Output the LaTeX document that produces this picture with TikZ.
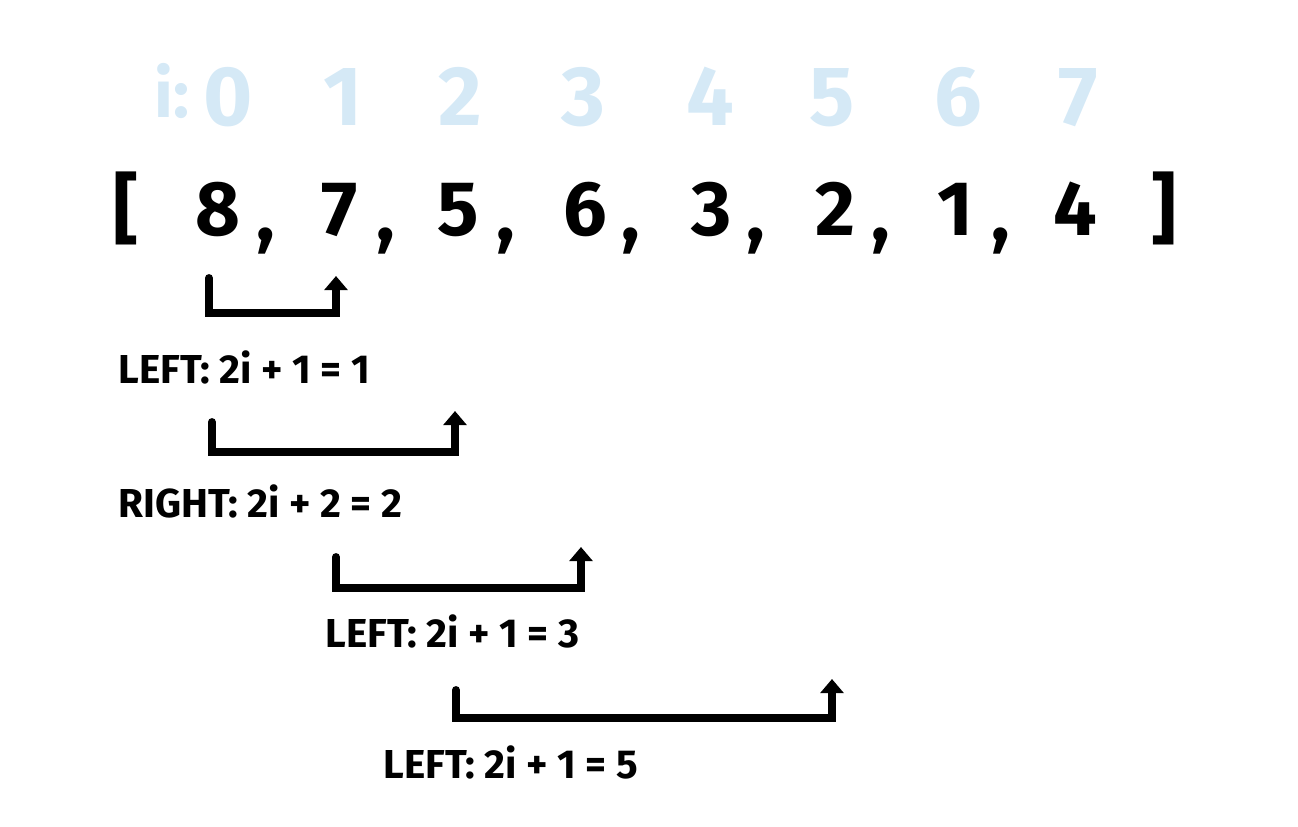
\documentclass[tikz,border=0pt]{standalone}
\usepackage{fontspec}
\setmainfont{Fira Sans}
\usepackage{tikz}
\usetikzlibrary{arrows.meta}

\definecolor{idxblue}{HTML}{D5E9F6}

\begin{document}
\begin{tikzpicture}[x=0.02cm,y=-0.02cm,
        idx/.style={text=idxblue, font=\fontsize{48}{50}\selectfont\bfseries, anchor=base, inner sep=0pt},
        num/.style={font=\fontsize{44}{46}\selectfont\bfseries, anchor=base, inner sep=0pt},
        lbl/.style={font=\fontsize{23}{25}\selectfont\bfseries, anchor=base west, inner sep=0pt},
        jump/.style={line width=4.5pt, line cap=round, -{Triangle[width=13pt,length=8pt]}}]
        \useasboundingbox (0,0) rectangle (1298,826);
        % index row
        \node[idx, anchor=base east, font=\fontsize{38}{40}\selectfont\bfseries] at (190,117) (ilbl){i:};
        \node[idx] at (228,125) (i0){0};
        \node[idx] at (343,125) (i1){1};
        \node[idx] at (460,125) (i2){2};
        \node[idx] at (583,125) (i3){3};
        \node[idx] at (710,125) (i4){4};
        \node[idx] at (832,125) (i5){5};
        \node[idx] at (958,125) (i6){6};
        \node[idx] at (1078,125) (i7){7};
        % array
        \node[num] at (126,235) (lb){[};
        \node[num] at (218,235) (v0){8};
        \node[num] at (340,235) (v1){7};
        \node[num] at (458,235) (v2){5};
        \node[num] at (585,235) (v3){6};
        \node[num] at (712,235) (v4){3};
        \node[num] at (835,235) (v5){2};
        \node[num] at (955,235) (v6){1};
        \node[num] at (1075,235) (v7){4};
        \node[num] at (1164,235) (rb){]};
        \node[num] at (266,240) (c0){,};
        \node[num] at (386,240) (c1){,};
        \node[num] at (506,240) (c2){,};
        \node[num] at (631,240) (c3){,};
        \node[num] at (756,240) (c4){,};
        \node[num] at (881,240) (c5){,};
        \node[num] at (1001,240) (c6){,};
        % children
        \coordinate (p1) at (209,278);
        \coordinate (q1) at (336,276);
        \coordinate (p2) at (212,422);
        \coordinate (q2) at (455,411);
        \coordinate (p3) at (336,557);
        \coordinate (q3) at (581,547);
        \coordinate (p4) at (456,690);
        \coordinate (q4) at (832,679);
        \draw[jump] (p1) -- ++(0,35) -| (q1);
        \draw[jump] (p2) -- ++(0,30) -| (q2);
        \draw[jump] (p3) -- ++(0,31) -| (q3);
        \draw[jump] (p4) -- ++(0,28) -| (q4);
        \node[lbl] at (118,383) (l1){LEFT: 2i + 1 = 1};
        \node[lbl] at (118,517) (l2){RIGHT: 2i + 2 = 2};
        \node[lbl] at (325,647) (l3){LEFT: 2i + 1 = 3};
        \node[lbl] at (383,778) (l4){LEFT: 2i + 1 = 5};
\end{tikzpicture}
\end{document}
